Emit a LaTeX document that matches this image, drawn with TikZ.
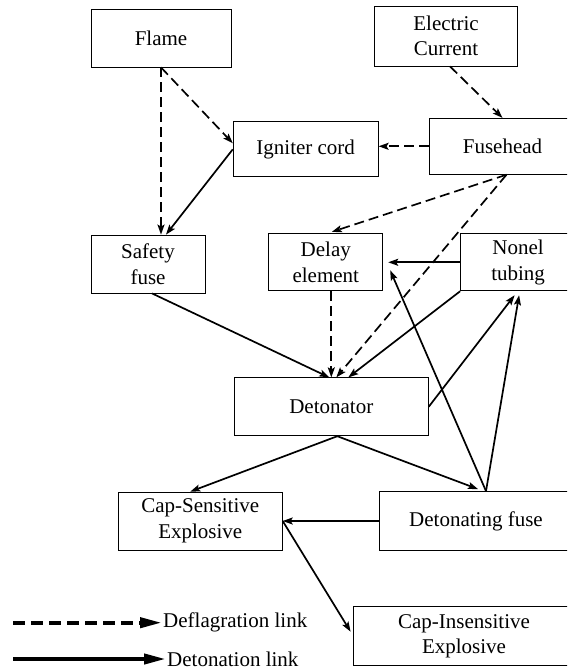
\documentclass[tikz,border=0pt]{standalone}
\usepackage{fontspec}
\setmainfont{Liberation Serif}
\usepackage{tikz}
\usetikzlibrary{arrows.meta,positioning,calc}

\begin{document}
\begin{tikzpicture}[x=1pt,y=-1pt,
  box/.style={draw,line width=0.8pt,minimum height=58pt,align=center,
              inner sep=2pt,font=\rmfamily\fontsize{21}{25.5}\selectfont},
  det/.style={-{Stealth[length=10pt,width=7pt,inset=2pt]},line width=1.7pt},
  defl/.style={det,dash pattern=on 10pt off 5pt},
  key/.style={line width=4pt},
  keytxt/.style={anchor=west,inner sep=1pt,font=\rmfamily\fontsize{21}{25.5}\selectfont}
]
\useasboundingbox (0,0) rectangle (567,671);
\clip (0,0) rectangle (567,671);

% sources
\node[box,minimum width=140pt] (flame)    at (161,38)  {Flame};
\node[box,minimum width=143pt,minimum height=60pt] (electric) at (446,36) {Electric\\Current};
\node[box,minimum width=147pt,minimum height=56pt] (fusehead) at (502.5,146.3) {Fusehead};
\node[box,minimum width=145pt,minimum height=55pt,left=50pt of fusehead,yshift=-3pt] (igniter) {Igniter cord};

% initiators
\node[box,minimum width=114pt] (safety) at (148,264) {Safety\\fuse};
\node[box,minimum width=114pt,minimum height=57pt,right=63pt of safety,yshift=1.7pt] (delay) {Delay\\element};
\node[box,minimum width=115pt,minimum height=57pt,right=77pt of delay] (nonel) {Nonel\\tubing};
\node[box,minimum width=194pt] (detonator) at (331.3,406.8) {Detonator};

% charges
\node[box,minimum width=164pt] (capsens) at (200.3,521) {Cap-Sensitive\\Explosive};
\node[box,minimum width=194pt,minimum height=59pt] (detfuse) at (476,521) {Detonating fuse};
\node[box,minimum width=222pt,minimum height=59pt] (capins) at (464,636.3) {Cap-Insensitive\\Explosive};

% deflagration links
\draw[defl] (flame.south) -- (flame.south |- safety.north);
\draw[defl] (flame.south) -- ([yshift=6pt]igniter.west);
\draw[defl] ([xshift=4pt]electric.south) -- (fusehead.north);
\draw[defl] (fusehead.west) -- (fusehead.west -| igniter.east);
\draw[defl] ([xshift=4pt]fusehead.south) -- ([xshift=6pt,yshift=1.5pt]delay.north);
\draw[defl] ([xshift=4pt]fusehead.south) -- ([xshift=5pt]detonator.north);
\draw[defl] (delay.south -| detonator.north) -- (detonator.north);

% detonation links
\draw[det] (igniter.west) -- ([xshift=18pt]safety.north);
\draw[det] ([xshift=4pt]safety.south) -- ([xshift=-2pt]detonator.north);
\draw[det] (nonel.south west) -- ([xshift=17pt]detonator.north);
\draw[det] (nonel.west) -- ([xshift=5pt]delay.east);
\draw[det] (detonator.east) -- ([xshift=-3.5pt,yshift=-4pt]nonel.south);
\draw[det] ([xshift=10pt]detfuse.north) -- ([xshift=1pt,yshift=-4pt]nonel.south);
\draw[det] ([xshift=10pt]detfuse.north) -- ([xshift=7pt,yshift=-8pt]delay.east);
\draw[det] ([xshift=6pt]detonator.south) -- ([xshift=-10pt]capsens.north);
\draw[det] ([xshift=6pt]detonator.south) -- ([xshift=2pt,yshift=2pt]detfuse.north);
\draw[det] (detfuse.west) -- (detfuse.west -| capsens.east);
\draw[det] (capsens.east) -- ([xshift=-2pt,yshift=4.6pt]capins.west);

% key
\coordinate (k1) at (13,622.7);
\coordinate (k2) at (13,659);
\node[keytxt] (k1t) at (162,622.7) {Deflagration link};
\node[keytxt] (k2t) at (166,659) {Detonation link};
\draw[key,dash pattern=on 12pt off 6pt,-{Stealth[length=22pt,width=10pt,inset=0pt]}] (k1) -- (k1t.west);
\draw[key,-{Stealth[length=22pt,width=10pt,inset=0pt]}] (k2) -- (k2t.west);
\end{tikzpicture}
\end{document}
